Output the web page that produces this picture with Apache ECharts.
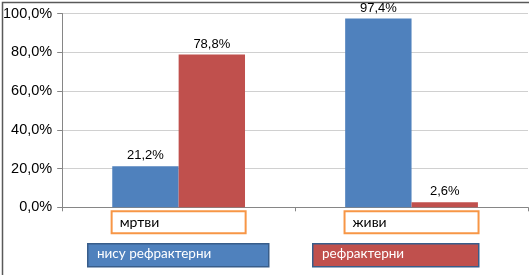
<!DOCTYPE html>
<html><head><meta charset="utf-8">
<script src="https://cdn.jsdelivr.net/npm/echarts@6/dist/echarts.min.js"></script>
<style>html,body{margin:0;padding:0;background:#fff}#c{width:529px;height:275px}</style>
</head><body><div id="c"></div>
<script>
var categories = ['мртви', 'живи'];
var seriesNames = ['нису рефрактерни', 'рефрактерни'];
var notRefractory = [21.2, 97.4];
var refractory = [78.8, 2.6];
var yTicks = [0, 20, 40, 60, 80, 100];

var colors = ['#4F81BD', '#C0504D'];
function pct(v){ return v.toFixed(1).replace('.', ',') + '%'; }

var chart = echarts.init(document.getElementById('c'), null, {renderer:'canvas'});
var legendBoxes = [
  {left: 87, top: 243, width: 181},
  {left: 312, top: 243, width: 166}
];
var graphics = [{
  type:'rect', left:0, top:0, silent:true,
  shape:{x:0.75, y:0.75, width:527.5, height:273.5},
  style:{fill:'none', stroke:'#595959', lineWidth:1.5}
}];
seriesNames.forEach(function(n, i){
  graphics.push({
    type:'rect', left:legendBoxes[i].left, top:legendBoxes[i].top,
    shape:{width:legendBoxes[i].width, height:23},
    style:{fill:colors[i], stroke:'#385D8A', lineWidth:1.5}
  });
  graphics.push({
    type:'text', left:legendBoxes[i].left + 10, top:legendBoxes[i].top + 4,
    style:{text:n, fill:'#fff', font:'13.5px Lato, "Open Sans", sans-serif'}
  });
});

chart.setOption({
  animation:false,
  grid:{left:62, right:1, top:13.5, bottom:67.7, containLabel:false},
  graphic: graphics,
  xAxis:{
    type:'category', data:categories,
    axisLine:{lineStyle:{color:'#868686', width:1}},
    axisTick:{show:true, length:4, lineStyle:{color:'#868686'}},
    axisLabel:{
      margin:5,
      formatter:function(v){ return '{b|' + v + '}'; },
      rich:{b:{
        width:125, height:19, padding:[1,0,0,7], align:'left',
        backgroundColor:'#fff', borderColor:'#F79646', borderWidth:2,
        color:'#000', fontSize:14, fontFamily:'Lato, "Open Sans", sans-serif'
      }}
    }
  },
  yAxis:{
    type:'value', min:yTicks[0], max:yTicks[yTicks.length-1], interval:20,
    axisLine:{show:true, lineStyle:{color:'#868686'}},
    axisTick:{show:true, length:5, lineStyle:{color:'#868686'}},
    splitLine:{lineStyle:{color:'#D0D0D0', width:1}},
    axisLabel:{formatter:function(v){return pct(v);}, color:'#000', fontSize:14.5,
      fontFamily:'"Liberation Sans", Arial, sans-serif', margin:10}
  },
  series:[
    {name:seriesNames[0], type:'bar', data:notRefractory, barGap:'0%', barCategoryGap:'43%',
     itemStyle:{color:colors[0]},
     label:{show:true, position:'top', distance:4, color:'#000', fontSize:13,
       fontFamily:'"Liberation Sans", Arial, sans-serif', formatter:function(p){return pct(p.value);}}},
    {name:seriesNames[1], type:'bar', data:refractory, barGap:'0%', barCategoryGap:'43%',
     itemStyle:{color:colors[1]},
     label:{show:true, position:'top', distance:4, color:'#000', fontSize:13,
       fontFamily:'"Liberation Sans", Arial, sans-serif', formatter:function(p){return pct(p.value);}}}
  ]
});
</script></body></html>
